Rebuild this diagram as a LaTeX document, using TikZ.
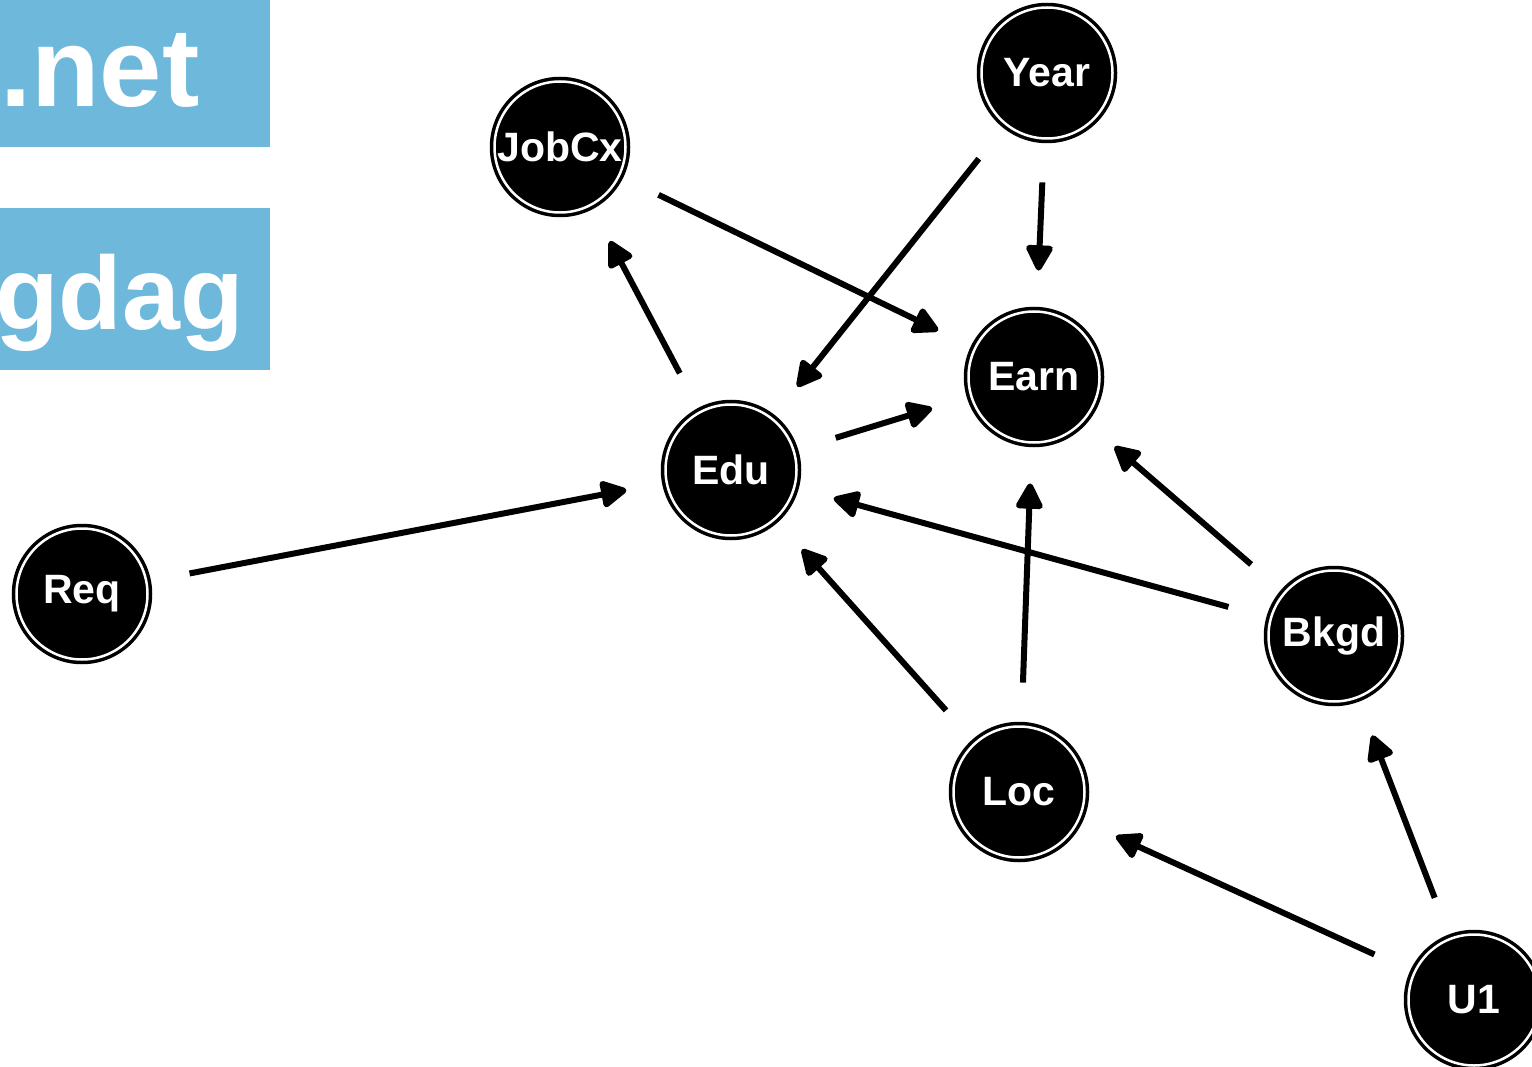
\documentclass[tikz,border=0pt]{standalone}
\usepackage{fontspec}
\setmainfont{Liberation Sans}
\usepackage{tikz}
\usetikzlibrary{arrows.meta}

\definecolor{bannerblue}{HTML}{6DB8DB}

\tikzset{
  dagnode/.style={circle, fill=black, draw=black, double=white, line width=3.5pt,
    double distance=2.5pt, minimum size=131pt, inner sep=0pt, outer sep=0pt,
    text=white, font=\fontsize{41}{41}\selectfont\bfseries},
  dagedge/.style={line width=6pt, -{Triangle[length=29pt,width=29pt,round]},
    shorten <=44pt, shorten >=41pt},
  banner/.style={anchor=base west, inner sep=0pt, text=white,
    font=\fontsize{112}{112}\selectfont\bfseries}
}

\begin{document}
\begin{tikzpicture}[x=1pt,y=-1pt]
            \useasboundingbox (0,0) rectangle (1532,1067);
            % banner
            \fill[bannerblue] (0,0) rectangle (270,147);
            \fill[bannerblue] (0,208) rectangle (270,370);
            \node[banner] (net) at (0,107) {.net};
            \node[banner, font=\fontsize{104}{104}\selectfont\bfseries] (gdag) at (-5,330) {gdag};
            % nodes
            \node[dagnode] (year) at (1047,73) {Year};
            \node[dagnode] (jobcx) at (560,147) {JobCx};
            \node[dagnode] (earn) at (1034,377) {Earn};
            \node[dagnode] (edu) at (731,470) {Edu};
            \node[dagnode] (req) at (82,594) {Req};
            \node[dagnode] (bkgd) at (1334,636) {Bkgd};
            \node[dagnode] (loc) at (1019,792) {Loc};
            \node[dagnode] (u1) at (1474,1000) {U1};
            % edges
            \draw[dagedge] (jobcx) -- (earn);
            \draw[dagedge] (year) -- (edu);
            \draw[dagedge] (year) -- (earn);
            \draw[dagedge] (edu) -- (jobcx);
            \draw[dagedge] (edu) -- (earn);
            \draw[dagedge] (req) -- (edu);
            \draw[dagedge] (bkgd) -- (edu);
            \draw[dagedge] (bkgd) -- (earn);
            \draw[dagedge] (loc) -- (edu);
            \draw[dagedge] (loc) -- (earn);
            \draw[dagedge] (u1) -- (loc);
            \draw[dagedge] (u1) -- (bkgd);
        \end{tikzpicture}
\end{document}
